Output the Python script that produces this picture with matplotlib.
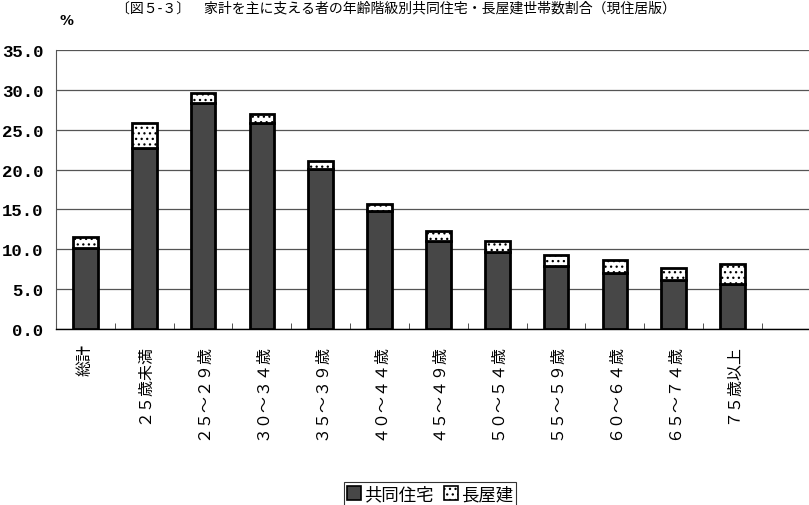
import matplotlib
matplotlib.use("Agg")
import matplotlib.pyplot as plt
from matplotlib.patches import Patch
import numpy as np

plt.rcParams['font.family'] = ['Noto Sans CJK JP', 'DejaVu Sans']
plt.rcParams['hatch.color'] = '#777777'
plt.rcParams['hatch.linewidth'] = 0.9

# Age groups of the household head
categories = ['総計', '２５歳未満', '２５～２９歳', '３０～３４歳', '３５～３９歳',
              '４０～４４歳', '４５～４９歳', '５０～５４歳', '５５～５９歳',
              '６０～６４歳', '６５～７４歳', '７５歳以上']
# Share of households (%) by dwelling type
kyodo = [10.2, 22.7, 28.3, 25.8, 20.1, 14.8, 11.1, 9.7, 7.9, 7.0, 6.1, 5.7]
nagaya = [1.4, 3.1, 1.3, 1.2, 1.0, 0.9, 1.2, 1.3, 1.4, 1.7, 1.6, 2.5]
series_names = ['共同住宅', '長屋建']
yticks = [0, 5, 10, 15, 20, 25, 30, 35]
title = '〔図５-３〕　家計を主に支える者の年齢階級別共同住宅・長屋建世帯数割合（現住居版）'

W, H = 809, 506
fig = plt.figure(figsize=(W / 100, H / 100), dpi=100)
ax = fig.add_axes([56 / W, 1 - 330 / H, (W - 56) / W, (330 - 51) / H])

x = np.arange(len(categories))
dark = '#474747'
ax.bar(x, kyodo, width=0.42, color=dark, edgecolor='black', linewidth=2.0, zorder=3)
ax.bar(x, nagaya, bottom=kyodo, width=0.42, color='white', hatch='...',
       edgecolor='black', linewidth=2.0, zorder=3)

ax.set_xlim(-0.5, 12.3)
ax.set_ylim(0, 35)
ax.set_yticks(yticks)
ax.set_yticklabels([f'{v:.1f}' for v in yticks], family='Liberation Mono',
                   fontweight='bold', fontsize=12.5)
ax.tick_params(axis='y', length=0, pad=9)
ax.yaxis.grid(True, color='#555555', linewidth=0.9, zorder=0)

ax.set_xticks(x)
ax.set_xticklabels(categories, rotation=90, va='top', ha='center', fontsize=11.5)
ax.tick_params(axis='x', which='major', length=0, pad=10)
ax.set_xticks(np.arange(len(categories)) + 0.5, minor=True)
ax.tick_params(axis='x', which='minor', direction='in', length=4, color='#333333')

for s in ['top', 'right']:
    ax.spines[s].set_visible(False)
ax.spines['left'].set_linewidth(0.8)
ax.spines['left'].set_color('#555555')
ax.spines['bottom'].set_linewidth(1.0)

fig.text(60 / W, 1 - 21 / H, '%', fontsize=10, fontweight='bold',
         family='DejaVu Sans', ha='left', va='center')
fig.text(116 / W, 1 - 1 / H, title, fontsize=10, ha='left', va='top')

handles = [Patch(facecolor=dark, edgecolor='black', linewidth=1.2),
           Patch(facecolor='white', edgecolor='black', hatch='...', linewidth=1.2)]
leg = fig.legend(handles, series_names, loc='center', bbox_to_anchor=(430 / W, 1 - 495 / H),
                 ncol=2, frameon=True, fancybox=False, fontsize=12.5,
                 handlelength=0.8, handleheight=0.8, handletextpad=0.2,
                 columnspacing=0.6, borderpad=0.15, borderaxespad=0)
leg.get_frame().set_edgecolor('black')
leg.get_frame().set_linewidth(0.8)

fig.savefig('out.png', dpi=100)
